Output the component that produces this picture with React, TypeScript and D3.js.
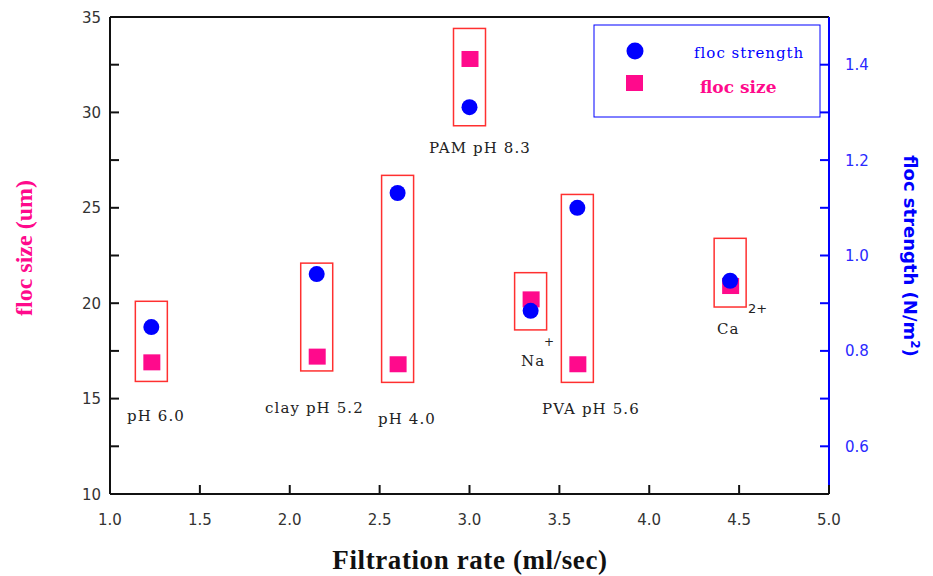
import React from "react";
import * as d3 from "d3";

const labels = ["pH 6.0", "clay pH 5.2", "pH 4.0", "PAM pH 8.3", "Na", "PVA pH 5.6", "Ca"];
const filtrationRate = [1.23, 2.15, 2.6, 3.0, 3.34, 3.6, 4.45];
const flocSize = [16.9, 17.2, 16.8, 32.8, 20.2, 16.8, 20.9];
const flocStrength = [0.85, 0.961, 1.131, 1.311, 0.884, 1.1, 0.947];
const boxTop = [20.1, 22.1, 26.7, 34.4, 21.6, 25.7, 23.4];
const boxBottom = [15.9, 16.45, 15.85, 29.3, 18.6, 15.85, 19.8];

const xTicks = [1.0, 1.5, 2.0, 2.5, 3.0, 3.5, 4.0, 4.5, 5.0];
const sizeTicks = [10, 12.5, 15, 17.5, 20, 22.5, 25, 27.5, 30, 32.5, 35];
const sizeLabels = [10, 15, 20, 25, 30, 35];
const strengthTicks = [0.6, 0.7, 0.8, 0.9, 1.0, 1.1, 1.2, 1.3, 1.4];
const strengthLabels = [0.6, 0.8, 1.0, 1.2, 1.4];

const MAGENTA = "#ff0a8c";
const BLUE = "#0000ff";

export default function App() {
  const left = 110, right = 829, top = 17, bottom = 494;
  const x = d3.scaleLinear().domain([1, 5]).range([left, right]);
  const yS = d3.scaleLinear().domain([10, 35]).range([bottom, top]);
  const yT = d3.scaleLinear().domain([0.5, 1.5]).range([bottom, top]);
  const serif = "'DejaVu Serif', serif";
  const sans = "'DejaVu Sans', sans-serif";
  const annoPos: Record<string, [number, number]> = {
    "pH 6.0": [127, 421],
    "clay pH 5.2": [265, 413],
    "pH 4.0": [378, 424],
    "PAM pH 8.3": [429, 153],
    "Na": [521, 366],
    "PVA pH 5.6": [542, 414],
    "Ca": [717, 334],
  };
  return (
    <svg width={933} height={576} style={{ position: "absolute", left: 0, top: 0, background: "#fff" }}>
      <rect x={0} y={0} width={933} height={576} fill="#fff" />
      {/* boxes */}
      {filtrationRate.map((v, i) => (
        <rect key={"b" + i} x={x(v) - 16} y={yS(boxTop[i])} width={32}
          height={yS(boxBottom[i]) - yS(boxTop[i])} fill="none" stroke="#ff3030" strokeWidth={1.5} />
      ))}
      {/* squares */}
      {filtrationRate.map((v, i) => (
        <rect key={"s" + i} x={x(v) - 8} y={yS(flocSize[i]) - 8} width={17} height={16} fill={MAGENTA} />
      ))}
      {/* circles */}
      {filtrationRate.map((v, i) => (
        <circle key={"c" + i} cx={x(v)} cy={yT(flocStrength[i])} r={8} fill={BLUE} />
      ))}
      {/* annotation labels */}
      {labels.map((l) => (
        <text key={l} x={annoPos[l][0]} y={annoPos[l][1]} fontFamily={serif} fontSize={15}
          letterSpacing={1.1} fill="#222">{l}</text>
      ))}
      <text x={544} y={346} fontFamily={sans} fontSize={12} fill="#222">+</text>
      <text x={748} y={313} fontFamily={sans} fontSize={13} fill="#222">2+</text>

      {/* axes frame */}
      <line x1={left} y1={top} x2={right} y2={top} stroke="#111" strokeWidth={2} />
      <line x1={left} y1={bottom} x2={right} y2={bottom} stroke="#111" strokeWidth={2} />
      <line x1={left} y1={top} x2={left} y2={bottom} stroke="#111" strokeWidth={2} />
      <line x1={right} y1={top} x2={right} y2={bottom} stroke={BLUE} strokeWidth={2} />

      {/* bottom ticks */}
      {xTicks.map((t) => (
        <g key={"x" + t}>
          <line x1={x(t)} x2={x(t)} y1={bottom} y2={bottom - 9} stroke="#111" strokeWidth={2} />
          <text x={x(t)} y={525} textAnchor="middle" fontFamily={sans} fontSize={15} fill="#333">{t.toFixed(1)}</text>
        </g>
      ))}
      {/* left ticks */}
      {sizeTicks.map((t) => (
        <line key={"l" + t} x1={left} x2={left + 9} y1={yS(t)} y2={yS(t)} stroke="#111" strokeWidth={2} />
      ))}
      {sizeLabels.map((t) => (
        <text key={"ll" + t} x={101} y={yS(t) + 5.5} textAnchor="end" fontFamily={sans} fontSize={15} fill="#333">{t}</text>
      ))}
      {/* right ticks */}
      {strengthTicks.map((t) => (
        <line key={"r" + t} x1={right} x2={right - 9} y1={yT(t)} y2={yT(t)} stroke={BLUE} strokeWidth={2} />
      ))}
      {strengthLabels.map((t) => (
        <text key={"rl" + t} x={845} y={yT(t) + 5.5} fontFamily={sans} fontSize={15} fill="#2a2aff">{t.toFixed(1)}</text>
      ))}

      {/* axis titles */}
      <text x={470} y={569} textAnchor="middle" fontFamily="'Liberation Serif', serif" fontWeight="bold"
        fontSize={27} letterSpacing={0.6} fill="#111">Filtration rate (ml/sec)</text>
      <text transform="translate(32,248) rotate(-90)" textAnchor="middle" fontFamily="'Liberation Serif', serif"
        fontWeight="bold" fontSize={24} fill={MAGENTA}>floc size (um)</text>
      <text transform="translate(904,256) rotate(90)" textAnchor="middle" fontFamily={sans}
        fontWeight="bold" fontSize={18} fill={BLUE}>floc strength (N/m<tspan dy={-7} fontSize={12}>2</tspan><tspan dy={7}>)</tspan></text>

      {/* legend */}
      <rect x={594} y={25} width={226} height={92} fill="none" stroke={BLUE} strokeWidth={1} />
      <circle cx={635} cy={51} r={8.5} fill={BLUE} />
      <rect x={626} y={75} width={17} height={16} fill={MAGENTA} />
      <text x={694} y={58} fontFamily={serif} fontSize={15} letterSpacing={1} fill={BLUE}>floc strength</text>
      <text x={700} y={93} fontFamily={serif} fontWeight="bold" fontSize={17} fill={MAGENTA}>floc size</text>
    </svg>
  );
}
